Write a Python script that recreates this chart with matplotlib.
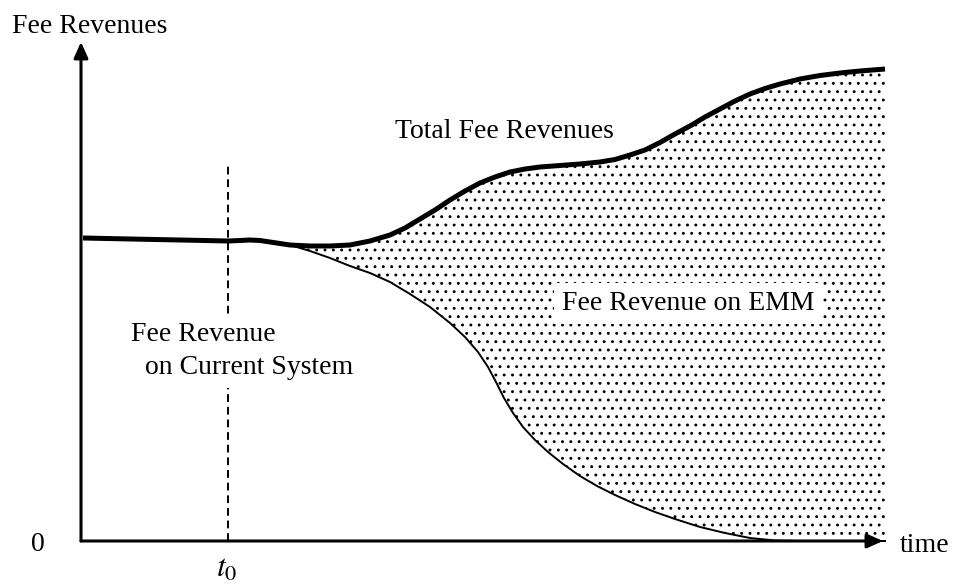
import numpy as np
import matplotlib
matplotlib.use("Agg")
import matplotlib.pyplot as plt

# curve values (time, revenue) -- origin at the axes corner
total_t = [2, 49, 99, 147, 159, 169, 179, 189, 199, 209, 229, 249, 269, 289, 309, 324,
           339, 354, 369, 384, 399, 414, 429, 444, 459, 479, 499, 519, 534, 549, 564,
           579, 594, 609, 624, 639, 654, 669, 684, 699, 719, 739, 759, 779, 804]
total_v = [303, 302, 301, 300, 300.5, 301, 300.5, 299, 297.5, 296, 295, 295, 296, 300,
           306, 313, 322, 331, 341, 350, 358, 364, 369, 372, 374, 375.5, 377, 379, 381.5,
           386, 391, 398.5, 407, 415, 424, 432, 440, 447, 452.5, 457, 462, 465.5, 468,
           470, 472]

current_t = [209, 229, 249, 269, 289, 309, 329, 349, 369, 384, 397, 407, 415, 423, 432,
             442, 454, 467, 482, 499, 516, 534, 554, 574, 594, 619, 644, 669, 694, 719,
             804]
current_v = [296, 290, 283, 275, 268, 259, 247, 234, 218, 204, 189, 174, 159, 143, 128,
             114, 101, 89, 77, 65, 55, 46, 37, 29, 22, 14, 8, 3, 0.5, 0, 0]

t0 = 147
x_end = 802
y_end = 499

plt.rcParams['font.family'] = ['Liberation Serif', 'DejaVu Serif']
plt.rcParams['mathtext.fontset'] = 'stix'
plt.rcParams['hatch.linewidth'] = 0.9

fig = plt.figure(figsize=(9.55, 5.86), dpi=100)
ax = fig.add_axes([0, 0, 1, 1])
ax.set_xlim(-81, 874)
ax.set_ylim(-45, 541)
ax.axis('off')

# dotted region between total and current system
i0 = total_t.index(209)
poly_t = np.concatenate([total_t[i0:], [total_t[-1]], current_t[::-1]])
poly_v = np.concatenate([total_v[i0:], [0], current_v[::-1]])
ax.fill(poly_t, poly_v, facecolor='white', edgecolor='black', linewidth=0,
        hatch='..', zorder=1)

ax.plot(current_t, current_v, color='black', lw=1.4, solid_joinstyle='round', zorder=3)
ax.plot(total_t, total_v, color='black', lw=3.6, solid_capstyle='butt',
        solid_joinstyle='round', zorder=4)

# t0 marker
ax.plot([t0, t0], [0, 379], color='black', lw=1.4, linestyle=(0, (4, 2.5)), zorder=2)

# axes with arrows
arrow = dict(arrowstyle='-|>,head_length=0.38,head_width=0.17', color='black',
             lw=2.2, mutation_scale=25, shrinkA=0, shrinkB=0)
ax.annotate('', xy=(0, y_end), xytext=(0, 0), arrowprops=arrow, zorder=5)
ax.annotate('', xy=(x_end, 0), xytext=(0, 0), arrowprops=arrow, zorder=5)

fs = 20
ax.text(-69, 508, 'Fee Revenues', fontsize=fs, ha='left', va='baseline')
ax.text(-43.5, -10, '0', fontsize=fs, ha='center', va='baseline')
ax.text(t0 - 1, -36, r'$t_0$', fontsize=23, ha='center', va='baseline')
ax.text(819, -11, 'time', fontsize=fs, ha='left', va='baseline')
ax.text(314, 403, 'Total Fee Revenues', fontsize=fs, ha='left', va='baseline')

box = dict(boxstyle='square,pad=0.3', facecolor='white', edgecolor='none')
ax.text(50, 200, 'Fee Revenue', fontsize=fs, ha='left', va='baseline', bbox=box, zorder=6)
ax.text(64, 167, 'on Current System', fontsize=fs, ha='left', va='baseline', bbox=box, zorder=6)
ax.text(481, 231, 'Fee Revenue on EMM', fontsize=fs, ha='left', va='baseline', bbox=box, zorder=6)

fig.savefig('out.png', dpi=100)
